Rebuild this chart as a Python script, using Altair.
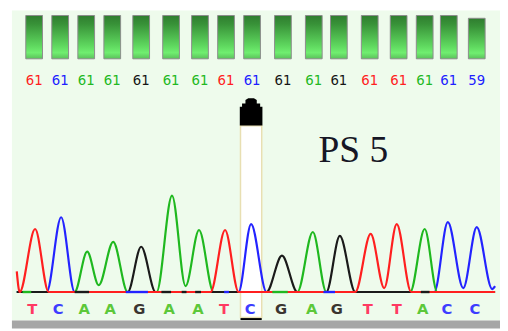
import altair as alt
import pandas as pd

# ---- base calls ----
bases = list("TCAAGAATCGAGTTACC")
call_pos = [30, 57, 84, 111, 141, 172, 202, 229, 256, 288, 320, 346, 378, 408, 435, 460, 489]
quality = [61, 61, 61, 61, 61, 61, 61, 61, 61, 61, 61, 61, 61, 61, 61, 61, 59]
selected = 8          # highlighted base (C)
label = "PS 5"

# ---- trace channels (scan position, signal) ----
trace_T_x = [12, 15, 31, 45, 213, 228, 242, 363, 379, 393, 406, 421, 508]
trace_T_y = [21, 0, 64, 0, 0, 63, 0, 0, 59, 4, 69, 0, 0]
trace_C_x = [12, 43, 58, 72, 242, 255, 271, 445, 459, 475, 489, 505, 508]
trace_C_y = [0, 0, 76, 0, 0, 69, 0, 0, 71, 4, 66, 3, 6]
trace_A_x = [12, 72, 85, 97, 112, 127, 157, 173, 187, 201, 216, 303, 319, 333, 420, 435, 448, 508]
trace_A_y = [0, 0, 41, 7, 51, 0, 0, 98, 6, 63, 0, 0, 61, 0, 0, 64, 0, 0]
trace_G_x = [12, 127, 141, 156, 271, 287, 303, 333, 347, 363, 508]
trace_G_y = [0, 0, 46, 0, 0, 37, 0, 0, 57, 0, 0]

# small baseline noise segments (channel, start, end)
noise_ch = ["A", "G", "C", "G", "G", "G", "C", "A", "C", "G"]
noise_x1 = [18, 72, 125, 162, 183, 197, 227, 277, 330, 431]
noise_x2 = [27, 87, 148, 172, 188, 203, 232, 293, 342, 440]

trace_col = {"T": "#ff1f1f", "C": "#2323ff", "A": "#1fb81f", "G": "#1a1a1a"}
num_col = {"T": "#ff2020", "C": "#2020ff", "A": "#22b822", "G": "#151515"}
let_col = {"T": "#ff3a62", "C": "#3d3dff", "A": "#5cc83a", "G": "#3a3530"}

W, H = 500, 323
xs = alt.Scale(domain=[8, 508], range=[0, W], nice=False, zero=False)
ys_tr = alt.Scale(domain=[0, 100], range=[286, 186], nice=False, zero=False)
ys_q = alt.Scale(domain=[30, 61], range=[49, 5], nice=False, zero=False)

calls = pd.DataFrame({"pos": call_pos, "base": bases, "q": quality})
calls["qtxt"] = calls["q"].astype(str)
calls["ncol"] = calls["base"].map(num_col)
calls["lcol"] = calls["base"].map(let_col)
sel_pos = call_pos[selected]
one = pd.DataFrame({"k": [0]})

bg = alt.Chart(one).mark_rect(color="#eefbec").encode(
    x=alt.value(4), x2=alt.value(W), y=alt.value(0), y2=alt.value(315))
gray = alt.Chart(one).mark_rect(color="#a6a6a6").encode(
    x=alt.value(4), x2=alt.value(W), y=alt.value(315), y2=alt.value(H))

column = alt.Chart(one).mark_rect(fill="white", stroke="#e8dfb2", strokeWidth=1.5).encode(
    x=alt.X("a:Q", scale=xs, axis=None), x2="b:Q",
    y=alt.value(117), y2=alt.value(312)
).transform_calculate(a=str(sel_pos - 12), b=str(sel_pos + 10))

underline = alt.Chart(one).mark_rule(color="black", strokeWidth=2).encode(
    x=alt.X("a:Q", scale=xs, axis=None), x2="b:Q", y=alt.value(313.5)
).transform_calculate(a=str(sel_pos - 12), b=str(sel_pos + 10))

arrow_path = ("M-1,1.2 L-1,-0.45 L-0.8,-0.45 L-0.8,-0.75 L-0.5,-0.75 L-0.5,-1.05 "
              "L-0.25,-1.2 L0.25,-1.2 L0.5,-1.05 L0.5,-0.75 L0.8,-0.75 L0.8,-0.45 "
              "L1,-0.45 L1,1.2 Z")
arrow = alt.Chart(one).mark_point(shape=arrow_path, filled=True, color="black",
                                  opacity=1, size=529, strokeWidth=0).encode(
    x=alt.X("a:Q", scale=xs, axis=None), y=alt.value(103)
).transform_calculate(a=str(sel_pos - 1))

grad = alt.Gradient(gradient="linear", x1=0, x2=0, y1=0, y2=1, stops=[
    alt.GradientStop(color="#2f7d2f", offset=0),
    alt.GradientStop(color="#389238", offset=0.2),
    alt.GradientStop(color="#5fd85f", offset=0.7),
    alt.GradientStop(color="#70ee70", offset=0.86),
    alt.GradientStop(color="#5ac05a", offset=1)])
bars = alt.Chart(calls).mark_bar(size=17, fill=grad, stroke="#8c8c8c", strokeWidth=1).encode(
    x=alt.X("pos:Q", scale=xs, axis=None),
    y=alt.Y("q:Q", scale=ys_q, axis=None),
    y2=alt.datum(30))

nums = alt.Chart(calls).mark_text(font="DejaVu Sans", fontSize=13.5, baseline="middle").encode(
    x=alt.X("pos:Q", scale=xs, axis=None), y=alt.value(72),
    text="qtxt:N", color=alt.Color("ncol:N", scale=None))

letters = alt.Chart(calls).mark_text(font="DejaVu Sans", fontSize=15, fontWeight="bold",
                                     baseline="middle", dx=-2).encode(
    x=alt.X("pos:Q", scale=xs, axis=None), y=alt.value(303),
    text="base:N", color=alt.Color("lcol:N", scale=None))

title = alt.Chart(one).mark_text(text=label, font="Liberation Serif", fontSize=38,
                                 color="#161625", baseline="middle").encode(
    x=alt.value(351), y=alt.value(143))

def trace(xv, yv, ch):
    df = pd.DataFrame({"x": xv, "y": yv})
    return alt.Chart(df).mark_line(interpolate="monotone", strokeWidth=2.2,
                                   color=trace_col[ch]).encode(
        x=alt.X("x:Q", scale=xs, axis=None),
        y=alt.Y("y:Q", scale=ys_tr, axis=None))

noise_df = pd.DataFrame({"x1": noise_x1, "x2": noise_x2, "ch": noise_ch})
noise_df["c"] = noise_df["ch"].map(trace_col)
noise = alt.Chart(noise_df).mark_rule(strokeWidth=2.4).encode(
    x=alt.X("x1:Q", scale=xs, axis=None), x2="x2:Q",
    y=alt.Y("z:Q", scale=ys_tr, axis=None),
    color=alt.Color("c:N", scale=None)
).transform_calculate(z="0")

chart = alt.layer(
    bg, gray, column, underline, bars, nums, arrow, title,
    trace(trace_C_x, trace_C_y, "C"),
    trace(trace_A_x, trace_A_y, "A"),
    trace(trace_G_x, trace_G_y, "G"),
    trace(trace_T_x, trace_T_y, "T"),
    noise, letters
).resolve_scale(y="independent").properties(
    width=W, height=H, padding=0, autosize=alt.AutoSizeParams(type="none"),
    background="white"
).configure_view(stroke=None)

chart.save("out.html", embed_options={"renderer": "svg", "actions": False})
